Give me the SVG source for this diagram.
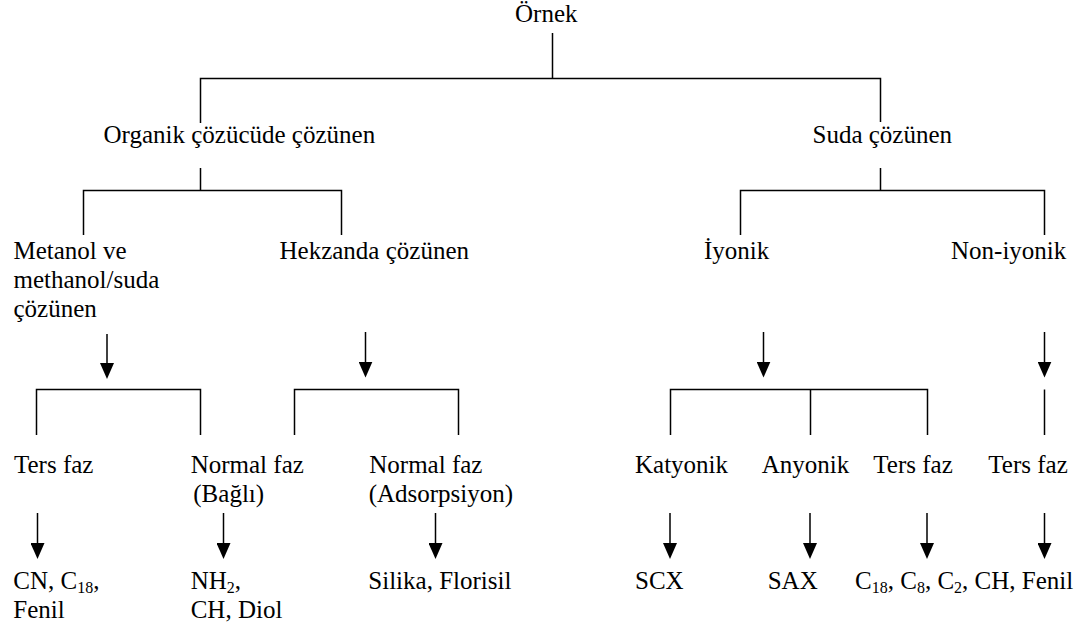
<svg xmlns="http://www.w3.org/2000/svg" width="1081" height="625" viewBox="0 0 1081 625">
  <defs>
    <marker id="head" viewBox="0 0 16 14" refX="8" refY="7" markerWidth="16" markerHeight="14" markerUnits="userSpaceOnUse" orient="auto">
      <path d="M0,0 L16,7 L0,14 Z" fill="#000"/>
    </marker>
    <style>
      text { font-family: 'Liberation Serif', Tinos, 'Times New Roman', 'DejaVu Serif', serif; font-size: 25px; fill: #000; }
      .sub { font-size: 16px; }
      .ln { fill: none; stroke: #000; stroke-width: 1.5; }
      .ar { fill: none; stroke: #000; stroke-width: 1.5; marker-end: url(#head); }
    </style>
  </defs>
  <rect width="1081" height="625" fill="#fff"/>

  <!-- tree branches and arrows -->
  <g id="connectors">
    <path class="ln" d="M552.5,33 V78.5 M200.5,123 V78.5 H880.5 V122"/>
    <path class="ln" d="M200.5,168 V190.5 M83.5,235 V190.5 H341.5 V235"/>
    <path class="ln" d="M880.5,168 V190.5 M740.5,235 V190.5 H1044.5 V235"/>

    <line class="ar" x1="107" y1="334" x2="107" y2="371"/>
    <line class="ar" x1="365.5" y1="332" x2="365.5" y2="369.5"/>
    <line class="ar" x1="763.5" y1="332" x2="763.5" y2="369.5"/>
    <line class="ar" x1="1044.5" y1="332" x2="1044.5" y2="369.5"/>

    <path class="ln" d="M36.5,435 V389.5 H200.5 V435"/>
    <path class="ln" d="M294.5,435 V389.5 H458.5 V435"/>
    <path class="ln" d="M670.5,435 V389.5 H927.5 V435 M810.5,389.5 V435"/>
    <path class="ln" d="M1044.5,389.5 V435"/>

    <line class="ar" x1="37.5" y1="513" x2="37.5" y2="551"/>
    <line class="ar" x1="223.5" y1="513" x2="223.5" y2="551"/>
    <line class="ar" x1="435.5" y1="513" x2="435.5" y2="551"/>
    <line class="ar" x1="670" y1="513" x2="670" y2="551"/>
    <line class="ar" x1="810" y1="513" x2="810" y2="551"/>
    <line class="ar" x1="927" y1="513" x2="927" y2="551"/>
    <line class="ar" x1="1044.5" y1="513" x2="1044.5" y2="551"/>
  </g>

  <g id="ornek"><text x="515" y="22">Örnek</text></g>

  <g id="organik"><text x="103.5" y="143">Organik çözücüde çözünen</text></g>
  <g id="suda"><text x="812.5" y="143">Suda çözünen</text></g>

  <g id="metanol">
    <text x="13.5" y="259">Metanol ve</text>
    <text x="13.5" y="288">methanol/suda</text>
    <text x="13.5" y="317">çözünen</text>
  </g>
  <g id="hekzan"><text x="279.5" y="259">Hekzanda çözünen</text></g>
  <g id="iyonik"><text x="704" y="259">İyonik</text></g>
  <g id="noniyonik"><text x="951" y="259">Non-iyonik</text></g>

  <g id="ters1"><text x="14" y="473">Ters faz</text></g>
  <g id="normal-bagli">
    <text x="190.7" y="473">Normal faz</text>
    <text x="193.3" y="502">(Bağlı)</text>
  </g>
  <g id="normal-ads">
    <text x="369.3" y="473">Normal faz</text>
    <text x="368.7" y="502">(Adsorpsiyon)</text>
  </g>
  <g id="katyonik"><text x="635" y="473">Katyonik</text></g>
  <g id="anyonik"><text x="761.7" y="473">Anyonik</text></g>
  <g id="ters2"><text x="873.3" y="473">Ters faz</text></g>
  <g id="ters3"><text x="988.3" y="473">Ters faz</text></g>

  <g id="res-ters1">
    <text x="13.3" y="589">CN, C<tspan class="sub" dy="4">18</tspan><tspan dy="-4">,</tspan></text>
    <text x="13.3" y="618">Fenil</text>
  </g>
  <g id="res-bagli">
    <text x="190.7" y="589">NH<tspan class="sub" dy="4">2</tspan><tspan dy="-4">,</tspan></text>
    <text x="190.7" y="618">CH, Diol</text>
  </g>
  <g id="res-ads"><text x="368.3" y="589">Silika, Florisil</text></g>
  <g id="res-scx"><text x="635" y="589">SCX</text></g>
  <g id="res-sax"><text x="767.7" y="589">SAX</text></g>
  <g id="res-ters"><text x="855" y="589">C<tspan class="sub" dy="4">18</tspan><tspan dy="-4">, C</tspan><tspan class="sub" dy="4">8</tspan><tspan dy="-4">, C</tspan><tspan class="sub" dy="4">2</tspan><tspan dy="-4">, CH, Fenil</tspan></text></g>
</svg>
